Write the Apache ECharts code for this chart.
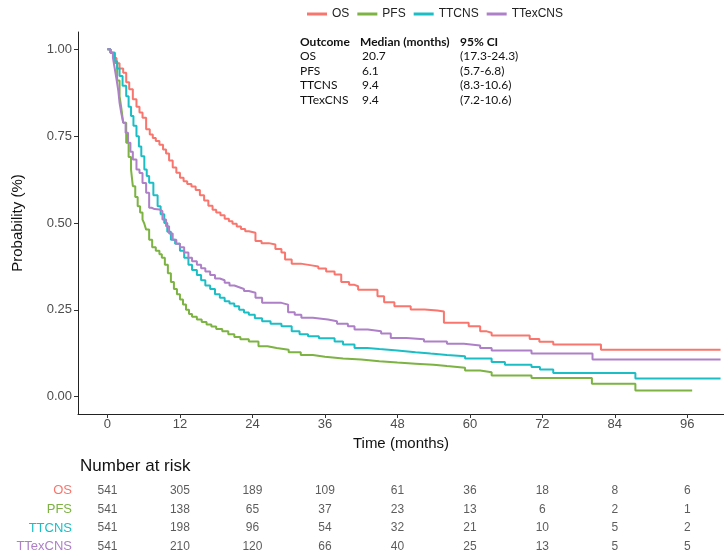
<!DOCTYPE html>
<html>
<head>
<meta charset="utf-8">
<script src="https://cdn.jsdelivr.net/npm/echarts@6/dist/echarts.min.js"></script>
<style>html,body{margin:0;padding:0;background:#fff}#c{width:724px;height:556px}</style>
</head>
<body>
<div id="c"></div>
<script>
const seriesNames = ['OS', 'PFS', 'TTCNS', 'TTexCNS'];
const xTicks = [0, 12, 24, 36, 48, 60, 72, 84, 96];
const yTicks = [0, 0.25, 0.5, 0.75, 1];

const osTime = [0,0.5,1.0,1.5,2.0,2.6,3.1,3.6,4.2,4.8,5.3,5.8,6.4,7.0,7.5,8.0,8.6,9.2,9.7,10.2,10.8,11.4,12.0,12.6,13.2,13.9,14.6,15.3,16.0,16.7,17.4,18.0,18.7,19.4,20.1,20.7,21.4,22.1,22.8,23.4,24.5,25.5,26.7,27.8,28.8,29.4,30.5,32.0,33.8,34.9,36.2,37.6,38.7,40.0,40.9,41.5,44.7,45.8,47.5,50.2,52.5,54.6,55.7,59.8,61.7,62.8,63.6,69.9,71.5,73.8,81.7,101.5];
const osSurv = [1.0,0.99,0.975,0.96,0.945,0.933,0.905,0.885,0.856,0.835,0.818,0.803,0.77,0.755,0.745,0.736,0.725,0.712,0.70,0.68,0.66,0.645,0.63,0.62,0.612,0.605,0.595,0.58,0.565,0.55,0.538,0.53,0.522,0.512,0.505,0.498,0.49,0.483,0.476,0.472,0.448,0.442,0.438,0.425,0.415,0.395,0.383,0.378,0.375,0.369,0.36,0.352,0.33,0.322,0.318,0.308,0.289,0.272,0.26,0.251,0.248,0.245,0.213,0.203,0.188,0.184,0.176,0.166,0.158,0.15,0.135,0.135];

const pfsTime = [0,0.5,1.2,1.6,2.0,2.3,2.6,3.1,3.5,3.9,4.2,4.6,5.0,5.4,5.8,6.1,6.4,6.9,7.4,8.0,8.6,9.0,9.5,10.0,10.5,11.0,11.5,12.0,12.5,13.0,13.5,14.0,14.8,15.6,16.4,17.2,18.0,19.0,20.0,21.0,22.0,23.4,25.0,26.5,28.0,30.0,32.0,34.0,36.0,39.0,42.0,45.0,48.0,51.0,54.0,56.2,59.2,61.7,63.6,70.2,80.2,87.4,96.8];
const pfsSurv = [1.0,0.99,0.961,0.91,0.865,0.83,0.789,0.731,0.69,0.654,0.606,0.575,0.548,0.53,0.51,0.498,0.481,0.452,0.43,0.42,0.41,0.40,0.38,0.355,0.33,0.31,0.295,0.28,0.265,0.25,0.238,0.23,0.222,0.215,0.208,0.202,0.195,0.188,0.18,0.172,0.165,0.159,0.145,0.14,0.135,0.128,0.12,0.115,0.11,0.107,0.102,0.098,0.095,0.092,0.088,0.083,0.075,0.07,0.061,0.054,0.037,0.018,0.018];

const ttcnsTime = [0,0.5,1.2,1.6,2.0,2.5,3.1,3.5,3.9,4.3,4.8,5.2,5.6,6.1,6.5,6.9,7.6,8.3,8.8,9.4,9.9,10.5,11.2,12.0,12.7,13.4,14.0,14.8,15.5,16.2,17.0,17.8,18.6,19.4,20.2,21.0,21.8,22.6,23.4,24.4,25.6,27.0,28.8,30.5,31.8,33.2,35.0,37.6,39.0,40.9,43.0,45.0,48.0,51.0,53.5,56.2,59.2,63.6,65.8,70.2,71.6,73.8,87.4,101.5];
const ttcnsSurv = [1.0,0.99,0.966,0.945,0.923,0.895,0.865,0.835,0.808,0.78,0.75,0.72,0.692,0.654,0.635,0.616,0.58,0.548,0.525,0.50,0.475,0.452,0.44,0.42,0.40,0.38,0.365,0.35,0.335,0.32,0.31,0.295,0.285,0.275,0.268,0.26,0.25,0.242,0.236,0.226,0.217,0.21,0.203,0.188,0.18,0.174,0.168,0.159,0.15,0.14,0.137,0.133,0.128,0.124,0.12,0.116,0.11,0.10,0.092,0.085,0.078,0.068,0.052,0.052];

const ttexTime = [0,0.5,0.9,1.2,1.5,1.8,2.0,2.3,2.6,3.0,3.4,3.8,4.2,4.8,5.3,5.8,6.4,6.9,7.3,7.8,8.6,9.1,9.7,10.2,10.8,11.4,12.0,12.7,13.4,14.0,14.8,15.5,16.2,17.0,17.8,18.6,19.4,20.2,21.0,21.8,22.6,23.4,24.5,25.6,28.8,29.9,31.0,32.1,34.0,36.5,38.0,39.8,40.9,43.1,45.3,46.9,49.5,52.4,56.2,59.0,61.7,63.6,70.2,80.3,101.5];
const ttexSurv = [1.0,0.99,0.976,0.945,0.914,0.88,0.846,0.815,0.789,0.76,0.731,0.705,0.683,0.654,0.644,0.615,0.587,0.544,0.54,0.539,0.534,0.51,0.491,0.47,0.452,0.44,0.43,0.415,0.40,0.39,0.38,0.37,0.36,0.35,0.34,0.335,0.328,0.32,0.315,0.31,0.304,0.299,0.285,0.27,0.265,0.243,0.236,0.227,0.222,0.217,0.21,0.203,0.193,0.188,0.182,0.169,0.165,0.159,0.152,0.147,0.14,0.133,0.124,0.107,0.107];

const riskTimes = [0, 12, 24, 36, 48, 60, 72, 84, 96];
const riskOS = [541, 305, 189, 109, 61, 36, 18, 8, 6];
const riskPFS = [541, 138, 65, 37, 23, 13, 6, 2, 1];
const riskTTCNS = [541, 198, 96, 54, 32, 21, 10, 5, 2];
const riskTTexCNS = [541, 210, 120, 66, 40, 25, 13, 5, 5];

const tableHeader = ['Outcome', 'Median (months)', '95% CI'];
const tableOutcome = ['OS', 'PFS', 'TTCNS', 'TTexCNS'];
const tableMedian = ['20.7', '6.1', '9.4', '9.4'];
const tableCI = ['(17.3-24.3)', '(5.7-6.8)', '(8.3-10.6)', '(7.2-10.6)'];

const colors = ['#F8766D', '#7CB342', '#1CBEC6', '#AD80C8'];
const curves = [[osTime, osSurv], [pfsTime, pfsSurv], [ttcnsTime, ttcnsSurv], [ttexTime, ttexSurv]];
const risks = [riskOS, riskPFS, riskTTCNS, riskTTexCNS];

const FONT = 'Liberation Sans, Arial, sans-serif';
const TFONT = 'Lato, Open Sans, sans-serif';

const series = [];
curves.forEach((c, k) => {
  series.push({
    name: seriesNames[k], type: 'line', step: 'end', showSymbol: false, symbol: 'none',
    xAxisIndex: 0, yAxisIndex: 0,
    lineStyle: { color: colors[k], width: 2 }, itemStyle: { color: colors[k] },
    data: c[0].map((t, i) => [t, c[1][i]]), animation: false, z: 3
  });
});
risks.forEach((r, k) => {
  series.push({
    name: 'risk_' + seriesNames[k], type: 'scatter', xAxisIndex: 1, yAxisIndex: 1,
    symbolSize: 0, silent: true, animation: false,
    data: riskTimes.map((t, i) => [t, seriesNames[k], r[i]]),
    label: { show: true, position: 'inside', formatter: p => String(p.value[2]),
      fontFamily: FONT, fontSize: 12, color: '#333' }
  });
});

const graphics = [];
const colX = [300, 360, 460];
const rowY = [44, 58.5, 73, 87.5, 102];
tableHeader.forEach((h, j) => graphics.push({ type: 'text', left: colX[j], top: rowY[0] - 8,
  style: { text: h, font: 'bold 12px ' + TFONT, fill: '#111' } }));
tableOutcome.forEach((o, i) => {
  [o, tableMedian[i], tableCI[i]].forEach((v, j) => graphics.push({ type: 'text',
    left: colX[j] + (j === 1 ? 2 : 0), top: rowY[i + 1] - 8,
    style: { text: v, font: '12px ' + TFONT, fill: '#111' } }));
});
graphics.push({ type: 'text', left: 80, top: 458, style: { text: 'Number at risk', font: '17px ' + FONT, fill: '#111' } });

const chart = echarts.init(document.getElementById('c'), null, { renderer: 'canvas' });
chart.setOption({
  animation: false,
  backgroundColor: '#fff',
  color: colors,
  legend: {
    data: seriesNames, left: 302, top: 3, itemWidth: 20, itemHeight: 3, itemGap: 8, icon: 'rect',
    textStyle: { fontFamily: FONT, fontSize: 12, color: '#222' }
  },
  grid: [
    { left: 78, right: -5, top: 32, bottom: 142 },
    { left: 78, right: -5, top: 481.5, height: 76 }
  ],
  xAxis: [
    { type: 'value', gridIndex: 0, min: -4.88, max: 102.07,
      name: 'Time (months)', nameLocation: 'middle', nameGap: 18,
      nameTextStyle: { fontFamily: FONT, fontSize: 15, color: '#111' },
      axisLine: { show: true, onZero: false, lineStyle: { color: '#222', width: 1 } },
      axisTick: { show: true, length: 4, customValues: xTicks, lineStyle: { color: '#333' } },
      axisLabel: { customValues: xTicks, margin: 4, fontFamily: FONT, fontSize: 13, color: '#4D4D4D' },
      splitLine: { show: false } },
    { type: 'value', gridIndex: 1, min: -4.88, max: 102.07, show: false }
  ],
  yAxis: [
    { type: 'value', gridIndex: 0, min: -0.05, max: 1.05,
      name: 'Probability (%)', nameLocation: 'middle', nameGap: 53, nameRotate: 90,
      nameTextStyle: { fontFamily: FONT, fontSize: 15, color: '#111' },
      axisLine: { show: true, onZero: false, lineStyle: { color: '#222', width: 1 } },
      axisTick: { show: true, length: 4, customValues: yTicks, lineStyle: { color: '#333' } },
      axisLabel: { customValues: yTicks, margin: 6, fontFamily: FONT, fontSize: 13, color: '#4D4D4D',
        formatter: v => v.toFixed(2) },
      splitLine: { show: false } },
    { type: 'category', gridIndex: 1, inverse: true,
      data: seriesNames.map((n, k) => ({ value: n, textStyle: { color: colors[k] } })),
      axisLine: { show: false }, axisTick: { show: false },
      axisLabel: { margin: 6, fontFamily: FONT, fontSize: 13 } }
  ],
  graphic: graphics,
  series: series
});
</script>
</body>
</html>
